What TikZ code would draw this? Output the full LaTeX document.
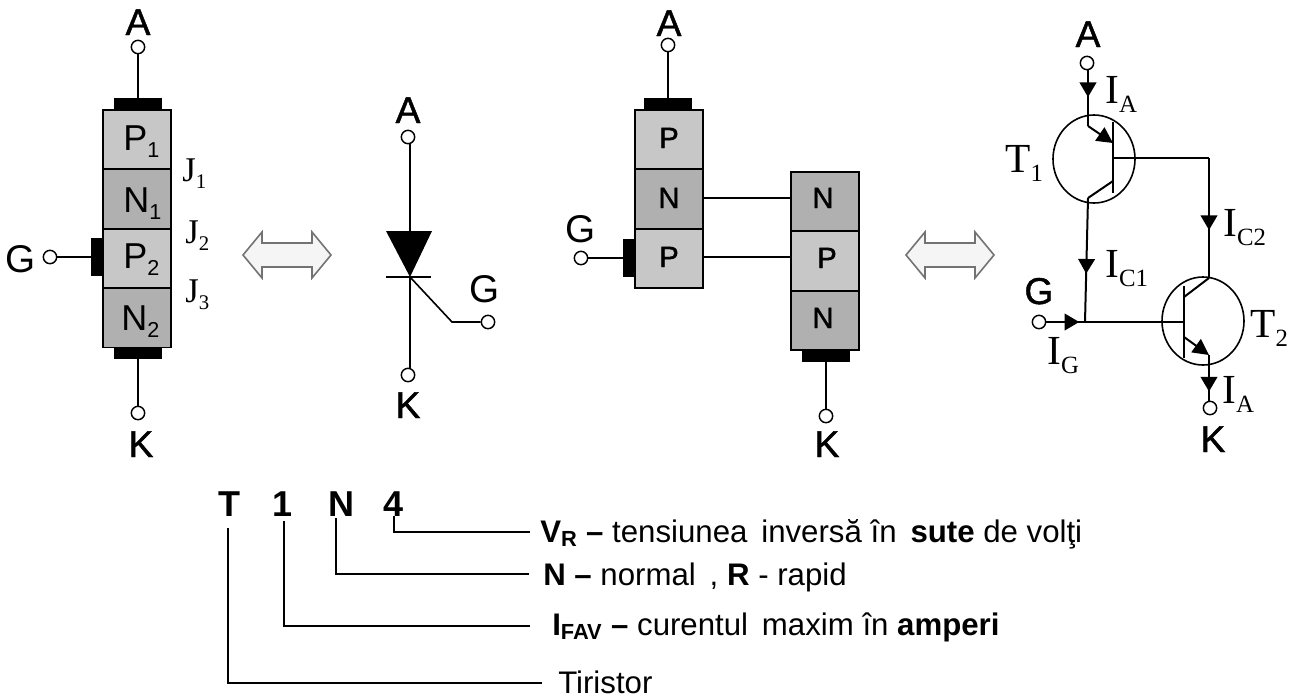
\documentclass[tikz,border=0pt]{standalone}
\usepackage{fontspec}
\usepackage{graphicx}
\setmainfont{Liberation Sans}
\newfontfamily\serfont{Liberation Serif}
\newfontfamily\semifont[FakeBold=1.2]{Liberation Sans}
\usetikzlibrary{arrows.meta,decorations.markings,shapes.geometric}
\newcommand{\subtxt}[2]{#1\raisebox{-0.22em}{\scalebox{.6}{#2}}}
\tikzset{
    wire/.style={line width=1.5pt},
    thin wire/.style={line width=1.2pt},
    mid tip/.style={postaction={decorate,decoration={markings,
        mark=at position #1 with {\arrow{Triangle[length=11pt,width=12.5pt]}},
    }}},
    term/.style={circle,draw,line width=1.1pt,fill=white,minimum size=10pt,inner sep=0pt},
    pblock/.style={rectangle,draw,line width=1.3pt,fill=black!22,minimum width=51pt,minimum height=44.4pt,inner sep=0pt},
    nblock/.style={pblock,fill=black!31},
    contact/.style={rectangle,fill=black,inner sep=0pt},
    hcontact/.style={contact,minimum width=36pt,minimum height=9pt},
    vcontact/.style={contact,minimum width=9pt,minimum height=28pt},
    letter/.style={anchor=base,inner sep=0pt,font=\semifont\fontsize{28}{28}\selectfont},
    gletter/.style={anchor=base,inner sep=0pt,font=\fontsize{29}{29}\selectfont},
    layerbig/.style={anchor=base west,inner sep=0pt,font=\fontsize{27}{27}\selectfont},
    layer/.style={anchor=base,inner sep=0pt,font=\semifont\fontsize{22}{22}\selectfont},
    junct/.style={anchor=base west,inner sep=0pt,font=\serfont\fontsize{26}{26}\selectfont},
    cur/.style={anchor=base west,inner sep=0pt,font=\serfont\fontsize{31}{31}\selectfont},
    code/.style={anchor=base,inner sep=0pt,font=\bfseries\fontsize{27}{27}\selectfont},
    note/.style={anchor=base west,inner sep=0pt,font=\fontsize{23.4}{23.4}\selectfont},
    bjt/.style={ellipse,draw,line width=1.2pt,minimum width=61.5pt,minimum height=66pt,inner sep=0pt},
    pics/equiv/.style={code={
        \draw[draw=black!55,line width=1.2pt,fill=black!4] (-44,0) -- (-25,-23) -- (-25,-12) -- (25,-12)
            -- (25,-23) -- (44,0) -- (25,23) -- (25,12) -- (-25,12) -- (-25,23) -- cycle;
    }},
}
\begin{document}
\begin{tikzpicture}[x=0.75pt,y=-0.75pt]
    \useasboundingbox (0,0) rectangle (1295,697);
    % four layer block
    \node[pblock] (p1) at (137,139.5) {};
    \node[nblock] (n1) at (137,199) {};
    \node[pblock] (p2) at (137,258.5) {};
    \node[nblock] (n2) at (137,318) {};
    \node[hcontact] (top1) at (138,104) {};
    \node[hcontact] (bot1) at (138,353) {};
    \node[vcontact] (gc1) at (97,257) {};
    \node[term] (a1) at (138,47) {};
    \node[term] (k1) at (138,413) {};
    \node[term] (g1) at (50,257) {};
    \draw[wire] (a1) -- (top1);
    \draw[wire] (k1) -- (bot1);
    \draw[wire] (g1) -- (gc1);
    \node[letter] (la1) at (138,35) {A};
    \node[letter] (lk1) at (141,457) {K};
    \node[gletter] (lg1) at (21,272) {G};
    \node[layerbig] (tp1) at (123,150) {\subtxt{P}{1}};
    \node[layerbig] (tn1) at (123,212) {\subtxt{N}{1}};
    \node[layerbig] (tp2) at (123,268) {\subtxt{P}{2}};
    \node[layerbig] (tn2) at (121,330) {\subtxt{N}{2}};
    \node[junct] (j1) at (182,181) {\subtxt{J}{1}};
    \node[junct] (j2) at (185,243) {\subtxt{J}{2}};
    \node[junct] (j3) at (185,302) {\subtxt{J}{3}};
    \pic (eq1) at (287,255) {equiv};
    % thyristor symbol
    \node[term] (a2) at (408,137) {};
    \node[term] (k2) at (408,375) {};
    \node[term] (g2) at (488,322) {};
    \coordinate (an2) at (410,233);
    \coordinate (ca2) at (410,277);
    \coordinate (bl2) at (386,277);
    \coordinate (br2) at (431,277);
    \coordinate (tl2) at (386,231);
    \coordinate (tr2) at (432,231);
    \coordinate (gb2) at (452,322);
    \fill (tl2) -- (tr2) -- (ca2) -- cycle;
    \draw[wire] (a2.south-|an2) -- (an2);
    \draw[wire] (bl2) -- (br2);
    \draw[wire] (ca2) -- (k2.north-|ca2);
    \draw[thin wire] (ca2) -- (gb2) -- (g2);
    \node[letter] (la2) at (408,123) {A};
    \node[letter] (lk2) at (408,418) {K};
    \node[gletter] (lg2) at (485,302) {G};
    % two transistor split
    \node[pblock] (p3) at (669,139.5) {};
    \node[nblock] (n3) at (669,199) {};
    \node[pblock] (p4) at (669,258.5) {};
    \node[nblock] (n4) at (825,201.5) {};
    \node[pblock] (p5) at (825,261) {};
    \node[nblock] (n5) at (825,320.5) {};
    \node[hcontact] (top3) at (668,104) {};
    \node[hcontact] (bot5) at (826,356) {};
    \node[vcontact] (gc3) at (629,258) {};
    \node[term] (a3) at (668,45) {};
    \node[term] (k3) at (826,416) {};
    \node[term] (g3) at (581,258) {};
    \draw[wire] (a3) -- (top3);
    \draw[wire] (k3) -- (bot5);
    \draw[wire] (g3) -- (gc3);
    \draw[wire] (n3.east|-0,198) -- (n4.west|-0,198);
    \draw[wire] (p4.east|-0,257) -- (p5.west|-0,257);
    \node[letter] (la3) at (669,36) {A};
    \node[gletter] (lg3) at (581,242) {G};
    \node[letter] (lk3) at (827,457) {K};
    \node[layer] (tp3) at (669,148) {P};
    \node[layer] (tn3) at (669,208) {N};
    \node[layer] (tp4) at (669,267) {P};
    \node[layer] (tn4) at (823,208) {N};
    \node[layer] (tp5) at (827,268) {P};
    \node[layer] (tn5) at (823,328) {N};
    \pic (eq2) at (950,255) {equiv};
    % equivalent circuit
    \node[bjt] (t1) at (1094,159) {};
    \node[bjt] (t2) at (1203,321) {};
    \node[term] (a4) at (1087,63) {};
    \node[term] (k4) at (1210,408) {};
    \node[term] (g4) at (1039,322) {};
    \coordinate (e1a) at (1088,126);
    \coordinate (e1b) at (1113,143);
    \coordinate (c1a) at (1113,181);
    \coordinate (c1b) at (1088,198);
    \coordinate (b1a) at (1113,122);
    \coordinate (b1b) at (1113,193);
    \coordinate (b1) at (1113,158);
    \coordinate (cn2) at (1209,158);
    \coordinate (c2a) at (1209,278);
    \coordinate (c2b) at (1184,297);
    \coordinate (b2a) at (1184,286);
    \coordinate (b2b) at (1184,358);
    \coordinate (b2) at (1184,322);
    \coordinate (e2a) at (1184,337);
    \coordinate (e2b) at (1209,355);
    \coordinate (jn) at (1085,322);
    \draw[wire,mid tip=.48] (a4.south-|e1a) -- (e1a);
    \draw[wire,-{Triangle[length=12pt,width=12pt]}] (e1a) -- (e1b);
    \draw[wire] (b1a) -- (b1b);
    \draw[wire] (c1a) -- (c1b);
    \draw[wire,mid tip=.61] (c1b) -- (jn);
    \draw[wire] (b1) -- (cn2);
    \draw[wire,mid tip=.6] (cn2) -- (c2a);
    \draw[wire] (c2a) -- (c2b);
    \draw[wire,mid tip=.85] (g4) -- (jn);
    \draw[wire] (jn) -- (b2);
    \draw[wire] (b2a) -- (b2b);
    \draw[wire,-{Triangle[length=12pt,width=12pt]}] (e2a) -- (e2b);
    \draw[wire,mid tip=.8] (e2b) -- (k4.north-|e2b);
    \node[letter] (la4) at (1088,47) {A};
    \node[letter] (lg4) at (1039,304) {G};
    \node[letter] (lk4) at (1213,452) {K};
    \node[cur] (lt1) at (1005,172) {\subtxt{T}{1}};
    \node[cur] (lt2) at (1250,337) {\subtxt{T}{2}};
    \node[cur] (ia1) at (1105,103) {\subtxt{I}{A}};
    \node[cur] (ic2) at (1223,236) {\subtxt{I}{C2}};
    \node[cur] (ic1) at (1105,277) {\subtxt{I}{C1}};
    \node[cur] (ig) at (1047,364) {\subtxt{I}{G}};
    \node[cur] (ia2) at (1222,403) {\subtxt{I}{A}};
    % type code
    \node[code] (cd1) at (229,516) {T};
    \node[code] (cd2) at (283,516) {1};
    \node[code] (cd3) at (341,516) {N};
    \node[code] (cd4) at (394,516) {4};
    \node[note] (nt4) at (540,542) {\textbf{V\textsubscript{R} –} tensiunea\, inversă în\, \textbf{sute} de volţi};
    \node[note] (nt3) at (543,585) {\textbf{N –} normal\, , \textbf{R} - rapid};
    \node[note] (nt2) at (552,635) {\textbf{I\textsubscript{FAV} –} curentul\, maxim în \textbf{amperi}};
    \node[note] (nt1) at (558,693) {Tiristor};
    \coordinate (st4) at (394,516);
    \coordinate (st3) at (336,518);
    \coordinate (st2) at (284,521);
    \coordinate (st1) at (228,528);
    \coordinate (en4) at (530,532);
    \coordinate (en3) at (529,574);
    \coordinate (en2) at (530,626);
    \coordinate (en1) at (542,683);
    \draw[thin wire] (st4) |- (en4);
    \draw[thin wire] (st3) |- (en3);
    \draw[thin wire] (st2) |- (en2);
    \draw[thin wire] (st1) |- (en1);
\end{tikzpicture}
\end{document}
